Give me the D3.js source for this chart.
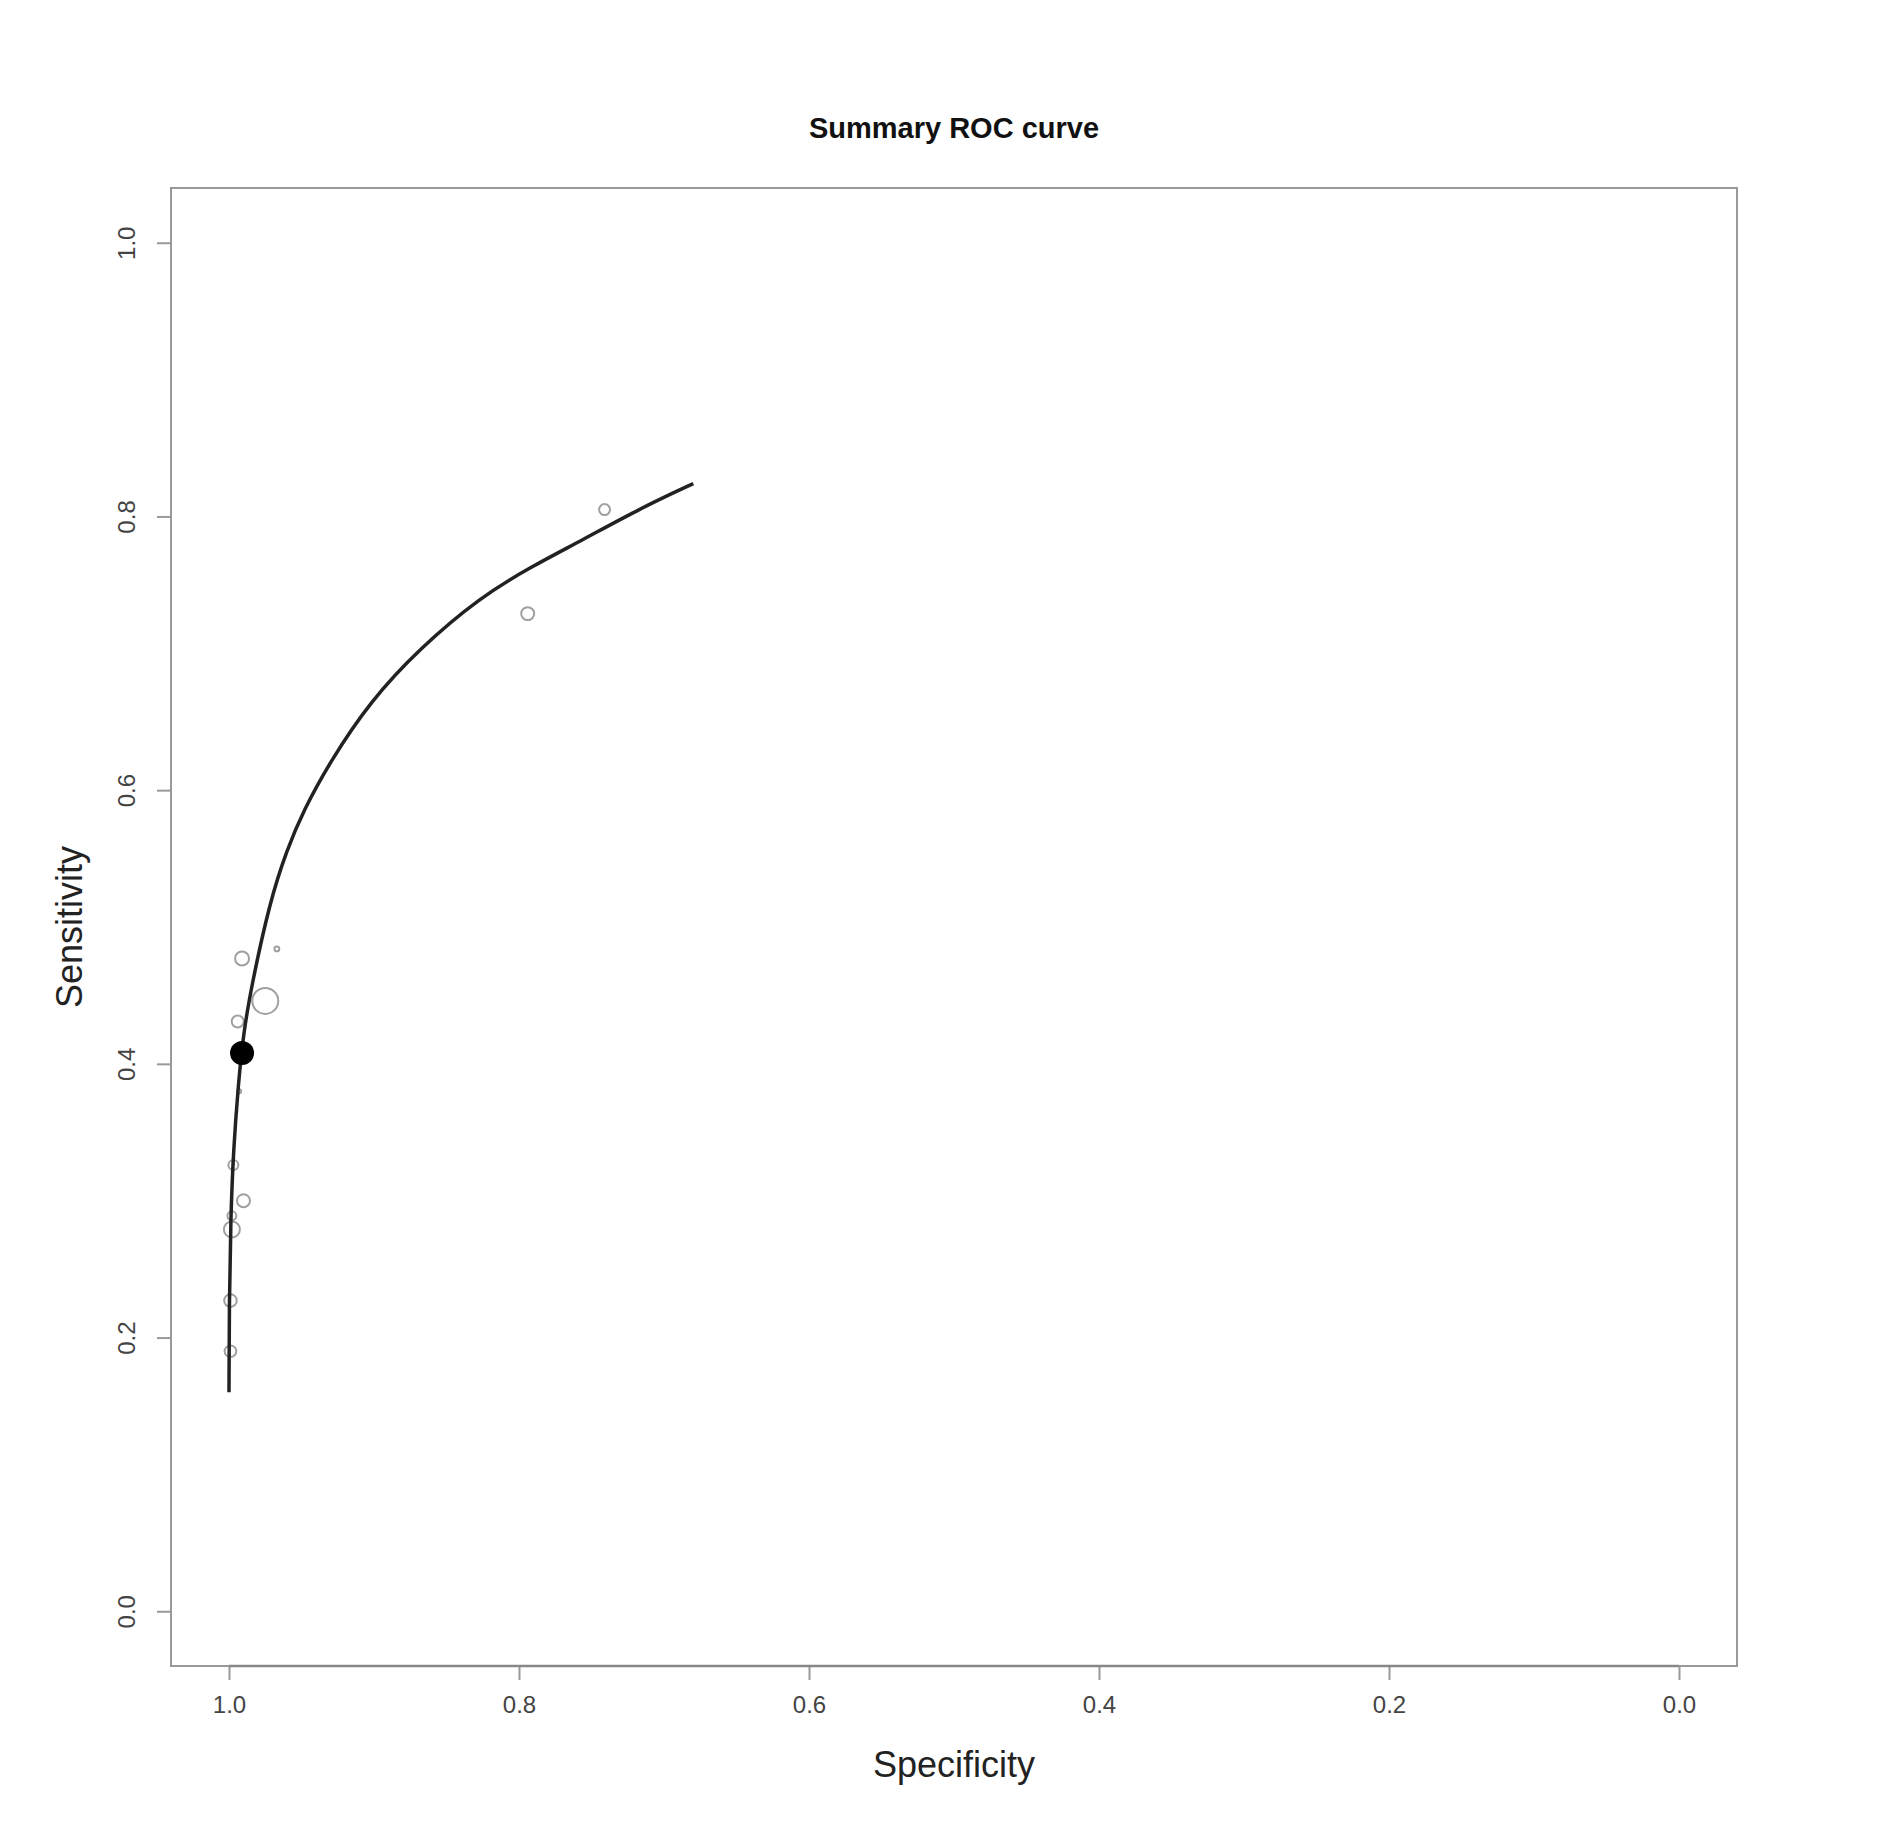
<!DOCTYPE html>
<html lang="en">
	<head>
		<meta charset="utf-8">
		<title>Summary ROC curve</title>
		<script type="text/javascript" src="https://cdn.jsdelivr.net/npm/d3@7"></script>
		<style type="text/css">
			body { margin: 0; background: #fff; }
			.axis text {
				font-family: "Liberation Sans", Arial, sans-serif;
				font-size: 24px;
				fill: #444;
			}
			.axis line { stroke: #999; stroke-width: 2; }
		</style>
	</head>
	<body>
		<script type="text/javascript">

			//Study points (specificity, sensitivity, weight)
			var studySpec = [0.741, 0.794, 0.991, 0.967, 0.975, 0.994, 0.993, 0.997, 0.990, 0.998, 0.998, 0.999, 0.999];
			var studySens = [0.805, 0.729, 0.477, 0.484, 0.446, 0.431, 0.380, 0.326, 0.300, 0.289, 0.279, 0.227, 0.190];
			var studyWeight = [30, 42, 49, 6, 169, 36, 4, 25, 42, 20, 64, 40, 34];

			//Summary point
			var summarySpec = 0.991;
			var summarySens = 0.408;

			//SROC curve
			var curveSpec = [1.000, 0.9998, 0.9988, 0.9970, 0.9936, 0.9901, 0.9843, 0.9717, 0.9602, 0.9487,
							 0.9302, 0.9026, 0.8681, 0.8267, 0.7921, 0.7576, 0.7162, 0.6798];
			var curveSens = [0.160, 0.227, 0.288, 0.336, 0.385, 0.422, 0.458, 0.519, 0.556, 0.585,
							 0.621, 0.665, 0.704, 0.741, 0.763, 0.782, 0.806, 0.824];

			var ticks = [1.0, 0.8, 0.6, 0.4, 0.2, 0.0];

			var w = 1880;
			var h = 1839;
			var boxL = 171, boxR = 1737, boxT = 188, boxB = 1666;

			var xScale = d3.scaleLinear().domain([1.04, -0.04]).range([boxL, boxR]);
			var yScale = d3.scaleLinear().domain([-0.04, 1.04]).range([boxB, boxT]);
			var rScale = d3.scaleSqrt().domain([0, d3.max(studyWeight)]).range([0, 13]);

			var svg = d3.select("body")
						.append("svg")
						.attr("width", w)
						.attr("height", h);

			//Box
			svg.append("rect")
				.attr("x", boxL)
				.attr("y", boxT)
				.attr("width", boxR - boxL)
				.attr("height", boxB - boxT)
				.attr("fill", "none")
				.attr("stroke", "#999")
				.attr("stroke-width", 2);

			//Axes
			var xAxis = d3.axisBottom(xScale)
						.tickValues(ticks)
						.tickSize(14)
						.tickPadding(16)
						.tickFormat(d3.format(".1f"));

			var yAxis = d3.axisLeft(yScale)
						.tickValues(ticks)
						.tickSize(14)
						.tickFormat(d3.format(".1f"));

			var gx = svg.append("g")
					.attr("class", "axis")
					.attr("transform", "translate(0," + boxB + ")")
					.call(xAxis);
			gx.select(".domain").remove();

			var gy = svg.append("g")
					.attr("class", "axis")
					.attr("transform", "translate(" + boxL + ",0)")
					.call(yAxis);
			gy.select(".domain").remove();
			gy.selectAll("text")
				.attr("x", 0)
				.attr("dy", 0)
				.attr("text-anchor", "middle")
				.attr("transform", "translate(-36,0) rotate(-90)");

			//Bottom axis line R style
			svg.append("line")
				.attr("x1", xScale(1)).attr("x2", xScale(0))
				.attr("y1", boxB).attr("y2", boxB)
				.attr("stroke", "#888")
				.attr("stroke-width", 2.5);

			//Study circles
			var studies = studySpec.map(function(d, i) {
				return { spec: d, sens: studySens[i], weight: studyWeight[i] };
			});

			svg.selectAll("circle.study")
				.data(studies)
				.enter()
				.append("circle")
				.attr("class", "study")
				.attr("cx", function(d) { return xScale(d.spec); })
				.attr("cy", function(d) { return yScale(d.sens); })
				.attr("r", function(d) { return rScale(d.weight); })
				.attr("fill", "none")
				.attr("stroke", "#a0a0a0")
				.attr("stroke-width", 2);

			//Curve (basis spline smooths the hand-read points)
			var curvePts = curveSpec.map(function(d, i) { return [d, curveSens[i]]; });
			var line = d3.line()
						.x(function(d) { return xScale(d[0]); })
						.y(function(d) { return yScale(d[1]); })
						.curve(d3.curveBasis);

			svg.append("path")
				.datum(curvePts)
				.attr("d", line)
				.attr("fill", "none")
				.attr("stroke", "#222")
				.attr("stroke-width", 3.5);

			//Summary point
			svg.append("circle")
				.attr("cx", xScale(summarySpec))
				.attr("cy", yScale(summarySens))
				.attr("r", 12)
				.attr("fill", "#000");

			//Title and labels
			svg.append("text")
				.attr("x", (boxL + boxR) / 2)
				.attr("y", 138)
				.attr("text-anchor", "middle")
				.attr("font-family", "Liberation Sans, Arial, sans-serif")
				.attr("font-weight", "bold")
				.attr("font-size", "29px")
				.attr("fill", "#111")
				.text("Summary ROC curve");

			svg.append("text")
				.attr("x", (boxL + boxR) / 2)
				.attr("y", 1777)
				.attr("text-anchor", "middle")
				.attr("font-family", "Liberation Sans, Arial, sans-serif")
				.attr("font-size", "36px")
				.attr("fill", "#222")
				.text("Specificity");

			svg.append("text")
				.attr("transform", "translate(82," + ((boxT + boxB) / 2) + ") rotate(-90)")
				.attr("text-anchor", "middle")
				.attr("font-family", "Liberation Sans, Arial, sans-serif")
				.attr("font-size", "36px")
				.attr("fill", "#222")
				.text("Sensitivity");

		</script>
	</body>
</html>
